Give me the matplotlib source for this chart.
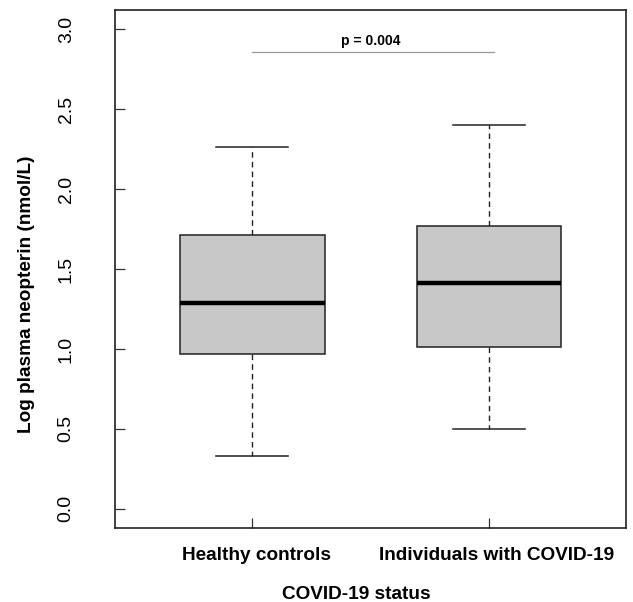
import matplotlib
matplotlib.use("Agg")
import matplotlib.pyplot as plt
from matplotlib.patches import Rectangle
from matplotlib.transforms import ScaledTranslation

plt.rcParams['font.family'] = ['Liberation Sans', 'DejaVu Sans']

categories = ["Healthy controls", "Individuals with COVID-19"]
whisker_low = [0.33, 0.50]
q1 = [0.97, 1.01]
median = [1.29, 1.41]
q3 = [1.71, 1.77]
whisker_high = [2.26, 2.40]
p_text = "p = 0.004"
p_y = 2.86
yticks = [0.0, 0.5, 1.0, 1.5, 2.0, 2.5, 3.0]

fig = plt.figure(figsize=(6.33, 6.02), dpi=100)
ax = fig.add_axes([0.1817, 0.1229, 0.8080, 0.8605])

bw = 0.61
for i in range(len(categories)):
    x = i + 1
    ax.add_patch(Rectangle((x - bw/2, q1[i]), bw, q3[i] - q1[i],
                           facecolor='#c8c8c8', edgecolor='#222222', lw=1.1, zorder=2))
    ax.plot([x - bw/2, x + bw/2], [median[i], median[i]], color='black', lw=3.2,
            solid_capstyle='butt', zorder=3)
    ax.plot([x, x], [q3[i], whisker_high[i]], color='#222222', lw=1.0, ls=(0, (4, 3)), zorder=1)
    ax.plot([x, x], [q1[i], whisker_low[i]], color='#222222', lw=1.0, ls=(0, (4, 3)), zorder=1)
    for w in (whisker_low[i], whisker_high[i]):
        ax.plot([x - bw/4, x + bw/4], [w, w], color='#222222', lw=1.1, zorder=1)

ax.plot([1.0, 2.02], [p_y, p_y], color='#999999', lw=0.9)
ax.text(1.5, p_y + 0.025, p_text, ha='center', va='bottom', fontsize=10, fontweight='bold')

ax.set_xlim(0.42, 2.58)
ax.set_ylim(-0.12, 3.12)
ax.set_xticks([1, 2])
ax.set_xticklabels(categories, fontsize=13.7, fontweight='bold')
ax.set_yticks(yticks)
ax.set_yticklabels([f"{v:.1f}" for v in yticks], fontsize=14, rotation=90, va='center')
ax.tick_params(axis='both', direction='in', length=7.2, width=0.9, color='#333333')
ax.tick_params(axis='x', pad=14)
ax.tick_params(axis='y', pad=29)
for lbl, dx in zip(ax.get_xticklabels(), [4, 7]):
    lbl.set_transform(lbl.get_transform() + ScaledTranslation(dx / 100, 0, fig.dpi_scale_trans))
for s in ax.spines.values():
    s.set_linewidth(1.2)
    s.set_color('#222222')
ax.set_xlabel("COVID-19 status", fontsize=13.7, fontweight='bold')
ax.xaxis.set_label_coords(0.472, -0.128, transform=ax.transAxes)
ax.xaxis.label.set_va('center')
ax.set_ylabel("Log plasma neopterin (nmol/L)", fontsize=13.7, fontweight='bold')
ax.yaxis.set_label_coords(-0.174, 0.452, transform=ax.transAxes)
ax.yaxis.label.set_va('center')

fig.savefig("out.png", dpi=100)
